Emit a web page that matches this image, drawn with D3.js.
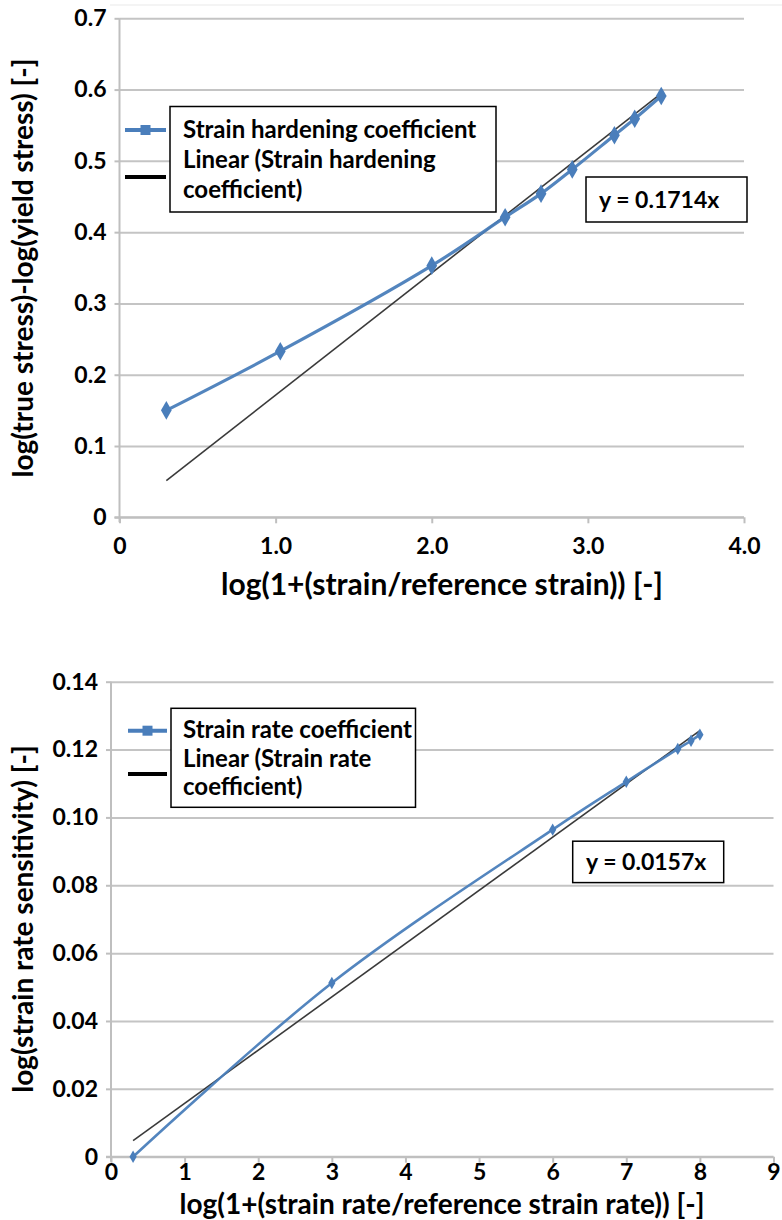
<!DOCTYPE html>
<html>
<head>
<meta charset="utf-8">
<script src="https://cdn.jsdelivr.net/npm/d3@7"></script>
<style>
  body { margin: 0; background: #fff; }
  svg { display: block; font-family: Lato, "Open Sans", sans-serif; font-weight: bold; }
  .axis path { display: none; }
  .axis line { stroke: #bfbfbf; stroke-width: 2; }
  .grid line { stroke: #c4c4c4; stroke-width: 2; }
  .grid path { display: none; }
  .axis text { fill: #000; font-size: 23px; font-weight: bold; font-family: Lato, "Open Sans", sans-serif; }
</style>
</head>
<body>
<script>
// top chart: strain hardening
var hardX = [0.30, 1.03, 2.00, 2.47, 2.70, 2.90, 3.17, 3.30, 3.47];
var hardY = [0.150, 0.233, 0.353, 0.421, 0.454, 0.488, 0.536, 0.559, 0.591];
var hardSlope = 0.1714;
var hardXTicks = [0, 1, 2, 3, 4];
var hardXLabels = ["0", "1.0", "2.0", "3.0", "4.0"];
var hardYTicks = [0, 0.1, 0.2, 0.3, 0.4, 0.5, 0.6, 0.7];
var hardYLabels = ["0", "0.1", "0.2", "0.3", "0.4", "0.5", "0.6", "0.7"];

// bottom chart: strain rate
var rateX = [0.3, 3.0, 6.0, 7.0, 7.7, 7.88, 8.0];
var rateY = [0, 0.0512, 0.0964, 0.1105, 0.1202, 0.1226, 0.1244];
var rateSlope = 0.0157;
var rateXTicks = [0, 1, 2, 3, 4, 5, 6, 7, 8, 9];
var rateXLabels = ["0", "1", "2", "3", "4", "5", "6", "7", "8", "9"];
var rateYTicks = [0, 0.02, 0.04, 0.06, 0.08, 0.10, 0.12, 0.14];
var rateYLabels = ["0", "0.02", "0.04", "0.06", "0.08", "0.10", "0.12", "0.14"];

var blue = "#4a7ebb";

var svg = d3.select("body").append("svg")
    .attr("width", 782)
    .attr("height", 1220);

// faint frame line at the very top
svg.append("line")
    .attr("x1", 110).attr("x2", 782).attr("y1", 5).attr("y2", 5)
    .attr("stroke", "#f0f0f0").attr("stroke-width", 1.5);

function drawChart(c) {
  var x = d3.scaleLinear().domain(c.xDomain).range(c.xRange);
  var y = d3.scaleLinear().domain(c.yDomain).range(c.yRange);
  var g = svg.append("g");

  // gridlines
  g.append("g")
      .attr("class", "grid")
      .attr("transform", "translate(" + c.xRange[0] + ",0)")
      .call(d3.axisLeft(y).tickValues(c.yTicks).tickFormat("")
        .tickSize(-(c.xRange[1] - c.xRange[0])));

  // y axis (ticks + labels)
  g.append("g")
      .attr("class", "axis")
      .attr("transform", "translate(" + c.xRange[0] + ",0)")
      .call(d3.axisLeft(y).tickValues(c.yTicks)
        .tickFormat(function(d, i) { return c.yLabels[i]; })
        .tickSize(5).tickPadding(8));
  g.append("line")
      .attr("x1", c.xRange[0]).attr("x2", c.xRange[0])
      .attr("y1", c.yRange[1]).attr("y2", c.yRange[0] + 5)
      .attr("stroke", "#bfbfbf").attr("stroke-width", 2);

  // x axis
  g.append("g")
      .attr("class", "axis")
      .attr("transform", "translate(0," + c.yRange[0] + ")")
      .call(d3.axisBottom(x).tickValues(c.xTicks)
        .tickFormat(function(d, i) { return c.xLabels[i]; })
        .tickSize(6).tickPadding(c.xLabelPad));
  g.append("line")
      .attr("x1", c.xRange[0] - 5).attr("x2", c.xRange[1])
      .attr("y1", c.yRange[0]).attr("y2", c.yRange[0])
      .attr("stroke", "#bfbfbf").attr("stroke-width", 2);

  // trend line y = slope * x, over the data range
  var x0 = d3.min(c.xs), x1 = d3.max(c.xs);
  g.append("line")
      .attr("x1", x(x0)).attr("y1", y(c.slope * x0))
      .attr("x2", x(x1)).attr("y2", y(c.slope * x1))
      .attr("stroke", "#3a3a3a").attr("stroke-width", 1.6);

  // data series, smoothed like the spreadsheet line
  var pts = c.xs.map(function(d, i) { return [d, c.ys[i]]; });
  var line = d3.line()
      .x(function(d) { return x(d[0]); })
      .y(function(d) { return y(d[1]); })
      .curve(d3.curveCatmullRom.alpha(0.5));
  g.append("path")
      .datum(pts)
      .attr("d", line)
      .attr("fill", "none")
      .attr("stroke", blue)
      .attr("stroke-width", c.lineWidth)
      .attr("opacity", 0.95);
  g.selectAll(".mark")
      .data(pts)
    .enter().append("path")
      .attr("class", "mark")
      .attr("d", d3.symbol().type(d3.symbolDiamond).size(c.markSize))
      .attr("transform", function(d) { return "translate(" + x(d[0]) + "," + y(d[1]) + ")"; })
      .attr("fill", blue);

  // axis titles
  g.append("text")
      .attr("transform", "translate(" + c.yTitlePos[0] + "," + c.yTitlePos[1] + ") rotate(-90)")
      .attr("text-anchor", "middle")
      .style("font-size", c.yTitleSize + "px")
      .text(c.yTitle);
  g.append("text")
      .attr("x", c.xTitlePos[0]).attr("y", c.xTitlePos[1])
      .attr("text-anchor", "middle")
      .style("font-size", c.xTitleSize + "px")
      .text(c.xTitle);

  // legend
  var L = c.legend;
  g.append("rect")
      .attr("x", L.box[0]).attr("y", L.box[1])
      .attr("width", L.box[2]).attr("height", L.box[3])
      .attr("fill", "#fff").attr("stroke", "#000").attr("stroke-width", 1.5);
  g.append("line")
      .attr("x1", L.keyX[0]).attr("x2", L.keyX[1])
      .attr("y1", L.blueY).attr("y2", L.blueY)
      .attr("stroke", blue).attr("stroke-width", 4);
  g.append("rect")
      .attr("x", (L.keyX[0] + L.keyX[1]) / 2 - 5).attr("y", L.blueY - 5)
      .attr("width", 10).attr("height", 10)
      .attr("fill", blue);
  g.append("line")
      .attr("x1", L.keyX[0]).attr("x2", L.keyX[1])
      .attr("y1", L.blackY).attr("y2", L.blackY)
      .attr("stroke", "#000").attr("stroke-width", 4);
  g.selectAll(".legtext")
      .data(L.lines)
    .enter().append("text")
      .attr("x", L.textX)
      .attr("y", function(d, i) { return L.textY + i * L.lineGap; })
      .style("font-size", "24px")
      .text(function(d) { return d; });

  // equation label
  var E = c.eq;
  g.append("rect")
      .attr("x", E.box[0]).attr("y", E.box[1])
      .attr("width", E.box[2]).attr("height", E.box[3])
      .attr("fill", "#fff").attr("stroke", "#000").attr("stroke-width", 1.5);
  g.append("text")
      .attr("x", E.textX).attr("y", E.textY)
      .style("font-size", "23px")
      .text("y = " + c.slope + "x");
}

drawChart({
  xs: hardX, ys: hardY, slope: hardSlope,
  xDomain: [0, 4], xRange: [119.5, 744],
  yDomain: [0, 0.7], yRange: [517.3, 18.3],
  xTicks: hardXTicks, xLabels: hardXLabels,
  yTicks: hardYTicks, yLabels: hardYLabels,
  xLabelPad: 14, lineWidth: 3.2, markSize: 100,
  xTitleSize: 30, yTitleSize: 28,
  yTitle: "log(true stress)-log(yield stress) [-]", yTitlePos: [33, 268],
  xTitle: "log(1+(strain/reference strain)) [-]", xTitlePos: [442, 595],
  legend: {
    box: [170, 106.5, 326, 105.5], keyX: [125, 166], blueY: 130, blackY: 177,
    textX: 183, textY: 137.5, lineGap: 30.3,
    lines: ["Strain hardening coefficient", "Linear (Strain hardening", "coefficient)"]
  },
  eq: { box: [586, 177, 161, 45], textX: 599, textY: 207.5 }
});

drawChart({
  xs: rateX, ys: rateY, slope: rateSlope,
  xDomain: [0, 9], xRange: [111, 773.5],
  yDomain: [0, 0.14], yRange: [1156.7, 681.7],
  xTicks: rateXTicks, xLabels: rateXLabels,
  yTicks: rateYTicks, yLabels: rateYLabels,
  xLabelPad: 1, lineWidth: 2.6, markSize: 45,
  xTitleSize: 28, yTitleSize: 28,
  yTitle: "log(strain rate sensitivity) [-]", yTitlePos: [33, 919],
  xTitle: "log(1+(strain rate/reference strain rate)) [-]", xTitlePos: [442, 1214],
  legend: {
    box: [171, 708.3, 244.5, 99], keyX: [128, 167], blueY: 730.7, blackY: 774,
    textX: 183, textY: 738, lineGap: 28.7,
    lines: ["Strain rate coefficient", "Linear (Strain rate", "coefficient)"]
  },
  eq: { box: [572.7, 841.2, 151, 41.4], textX: 586, textY: 870 }
});
</script>
</body>
</html>
